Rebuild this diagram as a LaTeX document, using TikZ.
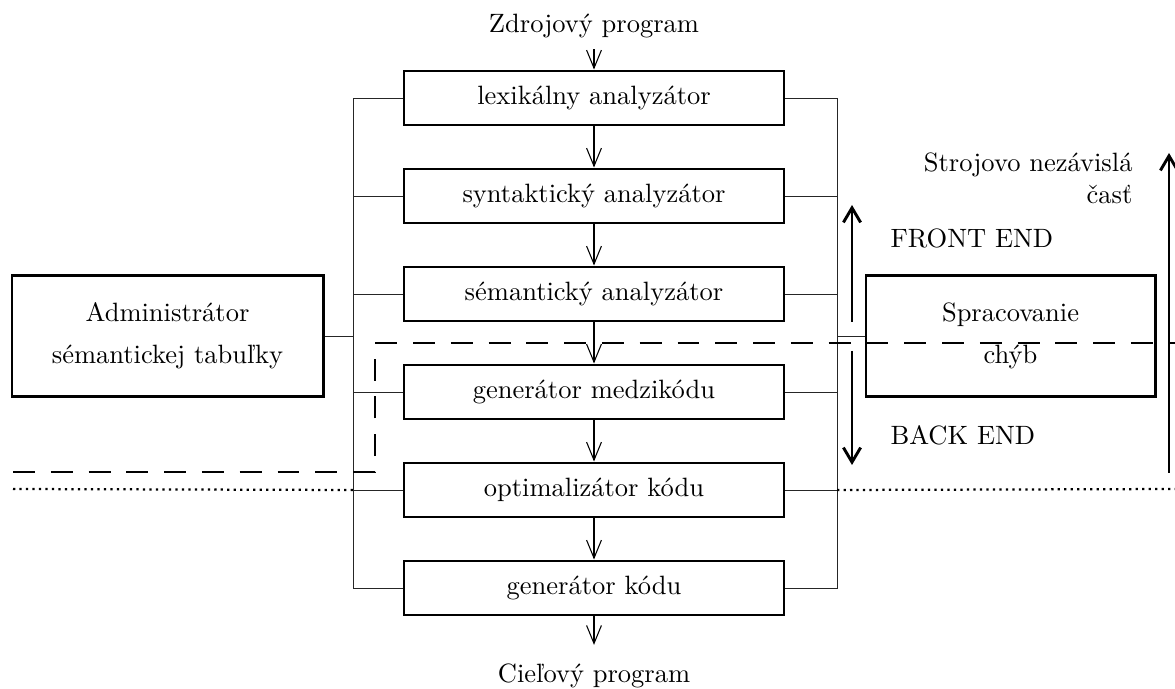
\documentclass[tikz,border=0pt]{standalone}
\usepackage{fontspec}
\usetikzlibrary{arrows.meta}
\begin{document}
\begin{tikzpicture}[x=0.3774pt,y=-0.3774pt,
  stage/.style={draw, line width=1.1pt, minimum width=143.4pt, minimum height=20.4pt, inner sep=0pt},
  sidebox/.style={draw, line width=1.1pt, minimum height=46pt, align=center, inner sep=0pt},
  bus/.style={line width=0.35pt, draw=black!85},
  flow/.style={line width=0.4pt, -{Straight Barb[length=6.8pt,width=5.6pt]}},
  span/.style={line width=1.1pt, -{Straight Barb[length=5.5pt,width=6.5pt]}},
  split/.style={line width=0.9pt, dash pattern=on 8.3pt off 5.96pt},
  dotline/.style={line width=0.85pt, dash pattern=on 0.85pt off 1.6pt},
  lbl/.style={inner sep=0pt}]
\useasboundingbox (0,0) rectangle (1175,689);

% bus positions
\coordinate (L) at (353,0);
\coordinate (R) at (837,0);

% compiler stages
\node[stage] (b1) at (594,98)  {lexikálny analyzátor};
\node[stage] (b2) at (594,196) {syntaktický analyzátor};
\node[stage] (b3) at (594,294) {sémantický analyzátor};
\node[stage] (b4) at (594,392) {generátor medzikódu};
\node[stage] (b5) at (594,490) {optimalizátor kódu};
\node[stage] (b6) at (594,588) {generátor kódu};

% input and output
\node[inner xsep=0pt, inner ysep=4pt] (src) at (594,26) {Zdrojový program};
\node[inner xsep=0pt, inner ysep=7pt] (dst) at (594,676) {Cieľový program};

% side modules
\node[sidebox, minimum width=117.4pt] (adm) at (167.5,336) {Administrátor\\[4pt]sémantickej tabuľky};
\node[sidebox, minimum width=109.1pt] (err) at (1010.5,336) {Spracovanie\\[4pt]chýb};

% flow through the stages
\draw[flow] (src) -- (b1);
\draw[flow] (b1) -- (b2);
\draw[flow] (b2) -- (b3);
\draw[flow] (b3) -- (b4);
\draw[flow] (b4) -- (b5);
\draw[flow] (b5) -- (b6);
\draw[flow] (b6) -- (dst);

% left bus to the symbol table
\draw[bus] (b1.west) -- (b1.west -| L) -- (b6.west -| L) -- (b6.west);
\foreach \b in {b2,b3,b4,b5} \draw[bus] (\b.west) -- (\b.west -| L);
\draw[bus] (adm.east) -- (adm.east -| L);

% right bus to error handling
\draw[bus] (b1.east) -- (b1.east -| R) -- (b6.east -| R) -- (b6.east);
\foreach \b in {b2,b3,b4,b5} \draw[bus] (\b.east) -- (\b.east -| R);
\draw[bus] (err.west) -- (err.west -| R);

% front end / back end split
\coordinate (s1) at (13,472);
\coordinate (s2) at (375,472);
\coordinate (s3) at (375,343);
\coordinate (s4) at (1175,343);
\draw[split] (s1) -- (s2) -- (s3) -- (s4);

% machine independent boundary
\coordinate (m1) at (13,489);
\coordinate (m2) at (1175,489);
\draw[dotline] (m1) -- (b5.west -| L);
\draw[dotline] (b5.east -| R) -- (m2);

% range arrows
\coordinate (fe1) at (852,322);
\coordinate (fe2) at (852,205);
\coordinate (be1) at (852,351);
\coordinate (be2) at (852,465);
\coordinate (mi1) at (1169,473);
\coordinate (mi2) at (1169,153);
\draw[span] (fe1) -- (fe2);
\draw[span] (be1) -- (be2);
\draw[span] (mi1) -- (mi2);

\node[lbl, anchor=west] (fe) at (890,238) {FRONT END};
\node[lbl, anchor=west] (be) at (890,435) {BACK END};
\node[lbl, anchor=east, align=right] (mi) at (1133,178) {Strojovo nezávislá\\časť};
\end{tikzpicture}
\end{document}
